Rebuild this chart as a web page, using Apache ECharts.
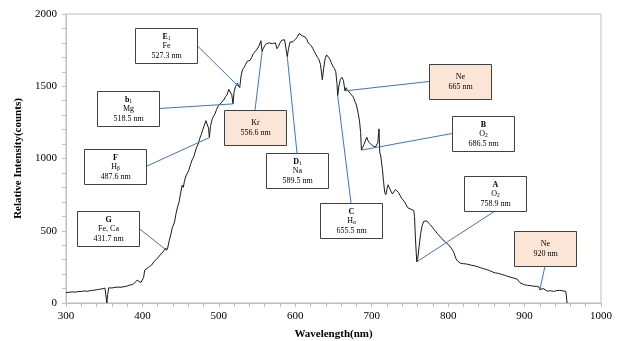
<!DOCTYPE html>
<html>
<head>
<meta charset="utf-8">
<script src="https://cdn.jsdelivr.net/npm/echarts@6/dist/echarts.min.js"></script>
<style>
  html, body { margin: 0; padding: 0; background: #fff; }
  #chart { width: 617px; height: 341px; }
</style>
</head>
<body>
<div id="chart"></div>
<script>
// spectrum: wavelength (nm) and relative intensity (counts)
const wavelengths = [
  300, 304, 308, 312, 316, 320, 324, 328, 332, 336, 340, 344, 348, 351, 352.5, 353.5, 354.5, 356, 360, 364,
  368, 372, 376, 380, 384, 387, 390, 393, 395, 398, 400, 401.5, 403, 406, 409, 412, 415, 418, 421, 424,
  427, 429, 430.5, 431.7, 433, 435, 437, 439, 440.5, 442, 444, 446, 448, 450, 452, 453.5, 455, 457, 459, 461,
  463, 465, 467, 469, 471, 473, 475, 477, 479, 481, 483, 485, 486.5, 487.6, 489, 491, 493, 495, 497, 499,
  501, 503, 505, 507, 509, 511, 513, 515, 517, 518.5, 520, 522, 524, 525.5, 527.3, 529, 531, 533, 535, 537,
  539, 541, 543, 545, 547, 549, 551, 553, 555, 555.8, 556.6, 558, 560, 562, 564, 566, 568, 570, 572, 574,
  576, 578, 580, 582, 584, 586, 588, 589.5, 591, 593, 595, 597, 599, 601, 603, 605, 607, 609, 611, 613,
  615, 617, 619, 621, 623, 625, 627, 629, 631, 633, 635.4, 637, 639, 641, 643, 645, 647, 649, 651, 653,
  654.5, 655.5, 657, 659, 661, 663, 665, 666.5, 668, 670, 672, 674, 676, 678, 680, 682, 684, 685.5, 686.5, 688,
  690, 692, 693.5, 695, 697, 699, 701, 703, 705, 706.5, 708, 709.5, 710.5, 712, 714, 715.5, 717, 718.5, 720, 721.5,
  723, 725, 727, 729, 731, 733, 735, 737, 739, 741, 743, 745, 747, 749, 751, 753, 755, 756, 757, 758.9,
  760, 762, 764, 766, 768, 770, 772, 774, 776, 778, 780, 783, 786, 789, 792, 795, 798, 801, 804, 807,
  810, 812, 814, 816, 818, 820, 822, 824, 826, 830, 834, 838, 842, 846, 850, 854, 858, 862, 866, 870,
  874, 878, 882, 886, 890, 892, 894, 896, 900, 904, 908, 912, 916, 919, 920, 921, 924, 927, 930, 934,
  938, 942, 946, 950, 954, 955, 955.6
];
const counts = [
  72, 74, 77, 75, 79, 80, 83, 81, 86, 88, 92, 95, 99, 103, 98, 0, 60, 105, 104, 108,
  110, 109, 113, 117, 125, 128, 140, 158, 150, 142, 150, 175, 228, 240, 252, 262, 286, 300, 318, 338,
  355, 365, 380, 365, 380, 430, 470, 520, 530, 560, 620, 665, 700, 760, 815, 800, 845, 880, 900, 925,
  960, 990, 1010, 1045, 1080, 1100, 1140, 1165, 1200, 1230, 1262, 1255, 1210, 1145, 1220, 1268, 1292, 1310, 1340, 1362,
  1370, 1385, 1395, 1410, 1430, 1445, 1478, 1465, 1440, 1378, 1465, 1500, 1522, 1515, 1490, 1570, 1615, 1630, 1650, 1672,
  1660, 1680, 1700, 1725, 1735, 1750, 1765, 1785, 1815, 1822, 1740, 1760, 1780, 1795, 1790, 1800, 1810, 1795, 1788, 1800,
  1760, 1775, 1800, 1818, 1828, 1822, 1815, 1705, 1755, 1805, 1810, 1808, 1820, 1830, 1845, 1865, 1858, 1850, 1838, 1840,
  1825, 1800, 1795, 1780, 1760, 1740, 1720, 1700, 1685, 1650, 1545, 1620, 1690, 1717, 1712, 1690, 1665, 1640, 1625, 1600,
  1520, 1435, 1500, 1548, 1562, 1540, 1468, 1490, 1475, 1468, 1450, 1440, 1425, 1395, 1370, 1320, 1260, 1180, 1058, 1075,
  1098, 1110, 1148, 1125, 1110, 1100, 1088, 1095, 1080, 1068, 1110, 1205, 1045, 1010, 925, 840, 765, 750, 790, 818,
  800, 775, 755, 770, 785, 780, 765, 745, 725, 712, 700, 680, 660, 655, 650, 645, 640, 600, 470, 285,
  300, 390, 480, 535, 565, 576, 568, 558, 545, 535, 520, 500, 480, 462, 445, 428, 415, 400, 380, 355,
  310, 292, 290, 275, 288, 272, 285, 270, 268, 262, 258, 252, 245, 238, 232, 225, 215, 208, 205, 198,
  192, 184, 178, 172, 166, 168, 140, 128, 126, 122, 120, 116, 115, 110, 92, 105, 100, 92, 82, 85,
  80, 86, 88, 84, 80, 78, 0
];

const xTicks = { min: 300, max: 1000, step: 100 };
const yTicks = { min: 0, max: 2000, step: 500 };

// annotation texts; "_" marks a subscript
const annotLines = [
  ["G", "Fe, Ca", "431.7 nm"],
  ["F", "H_β", "487.6 nm"],
  ["b_1", "Mg", "518.5 nm"],
  ["E_1", "Fe", "527.3 nm"],
  ["Kr", "556.6 nm"],
  ["D_1", "Na", "589.5 nm"],
  ["C", "H_α", "655.5 nm"],
  ["Ne", "665 nm"],
  ["B", "O_2", "686.5 nm"],
  ["A", "O_2", "758.9 nm"],
  ["Ne", "920 nm"],
];
const annotWavelengths = [431.7, 487.6, 518.5, 527.3, 556.6, 589.5, 655.5, 665, 686.5, 758.9, 920];
const annotHighlight = [false, false, false, false, true, false, false, true, false, false, true];

// box placement in pixels: [left, top, side where the leader leaves the box]
const annotLayout = [
  [77, 211, "right"],
  [84, 149, "right"],
  [97, 91, "right"],
  [135, 28, "right"],
  [224, 110, "top"],
  [266, 153, "top"],
  [320, 203, "top"],
  [429, 64, "left"],
  [452, 116, "left"],
  [464, 176, "bottom"],
  [514, 231, "bottom"],
];
const BOX_W = 62;
const BOX_H = 35;

const serif = "'Liberation Serif', 'Times New Roman', serif";
const axisGray = "#bfbfbf";

function curveAt(nm) {
  for (let i = 1; i < wavelengths.length; i++) {
    if (wavelengths[i] >= nm) {
      const x0 = wavelengths[i - 1];
      const x1 = wavelengths[i];
      const f = x1 === x0 ? 0 : (nm - x0) / (x1 - x0);
      return counts[i - 1] + f * (counts[i] - counts[i - 1]);
    }
  }
  return counts[counts.length - 1];
}

function toRich(line, first, highlight) {
  const base = first && !highlight ? "b" : "n";
  const parts = line.split("_");
  let out = `{${base}|${parts[0]}}`;
  if (parts.length > 1) {
    out += `{s|${parts[1]}}`;
  }
  return out;
}

const chart = echarts.init(document.getElementById("chart"), null, { renderer: "canvas" });

const axisCommon = {
  type: "value",
  axisLine: { show: true, lineStyle: { color: axisGray, width: 1 } },
  axisTick: { show: true, inside: false, length: 4, lineStyle: { color: axisGray } },
  minorTick: { show: true, splitNumber: 5, length: 4, lineStyle: { color: axisGray } },
  splitLine: { show: false },
  axisLabel: {
    color: "#000",
    fontFamily: serif,
    fontSize: 11,
    formatter: (v) => String(v),
  },
  nameTextStyle: { color: "#000", fontFamily: serif, fontSize: 11, fontWeight: "bold" },
};

chart.setOption({
  animation: false,
  backgroundColor: "#fff",
  grid: {
    left: 66,
    right: 16,
    top: 14,
    bottom: 38,
    containLabel: false,
    outerBoundsMode: "none",
    show: true,
    borderColor: axisGray,
    borderWidth: 1,
    backgroundColor: "transparent",
  },
  xAxis: {
    ...axisCommon,
    min: xTicks.min,
    max: xTicks.max,
    interval: xTicks.step,
    name: "Wavelength(nm)",
    nameLocation: "middle",
    nameGap: 26,
    axisLabel: { ...axisCommon.axisLabel, margin: 8 },
  },
  yAxis: {
    ...axisCommon,
    min: yTicks.min,
    max: yTicks.max,
    interval: yTicks.step,
    name: "Relative Intensity(counts)",
    nameLocation: "middle",
    nameGap: 37,
    axisLabel: { ...axisCommon.axisLabel, margin: 9 },
  },
  series: [
    {
      type: "line",
      data: wavelengths.map((w, i) => [w, counts[i]]),
      showSymbol: false,
      symbol: "none",
      smooth: false,
      lineStyle: { color: "#1a1a1a", width: 1 },
      z: 2,
    },
  ],
});

const graphics = [];
annotLines.forEach((lines, i) => {
  const [left, top, side] = annotLayout[i];
  const highlight = annotHighlight[i];
  const tip = chart.convertToPixel("grid", [annotWavelengths[i], curveAt(annotWavelengths[i])]);

  let sx = left + BOX_W / 2;
  let sy = top + BOX_H / 2;
  if (side === "right") sx = left + BOX_W;
  if (side === "left") sx = left;
  if (side === "top") sy = top;
  if (side === "bottom") sy = top + BOX_H;

  graphics.push({
    type: "line",
    z: 10,
    shape: { x1: sx, y1: sy, x2: tip[0], y2: tip[1] },
    style: { stroke: "#4472c4", lineWidth: 1 },
  });
  graphics.push({
    type: "rect",
    z: 11,
    shape: { x: left + 0.5, y: top + 0.5, width: BOX_W, height: BOX_H },
    style: { fill: highlight ? "#fbe5d6" : "#ffffff", stroke: "#404040", lineWidth: 1 },
  });
  graphics.push({
    type: "text",
    z: 12,
    x: left + BOX_W / 2 + 0.5,
    y: top + BOX_H / 2 + 0.5,
    style: {
      text: lines.map((l, j) => toRich(l, j === 0, highlight)).join("\n"),
      align: "center",
      verticalAlign: "middle",
      fill: "#000",
      rich: {
        b: { fontFamily: serif, fontSize: 8, fontWeight: "bold", lineHeight: 9.5, fill: "#000" },
        n: { fontFamily: serif, fontSize: 8, lineHeight: 9.5, fill: "#000" },
        s: { fontFamily: serif, fontSize: 5.5, lineHeight: 6, verticalAlign: "bottom", fill: "#000" },
      },
    },
  });
});

chart.setOption({ graphic: graphics });
</script>
</body>
</html>
